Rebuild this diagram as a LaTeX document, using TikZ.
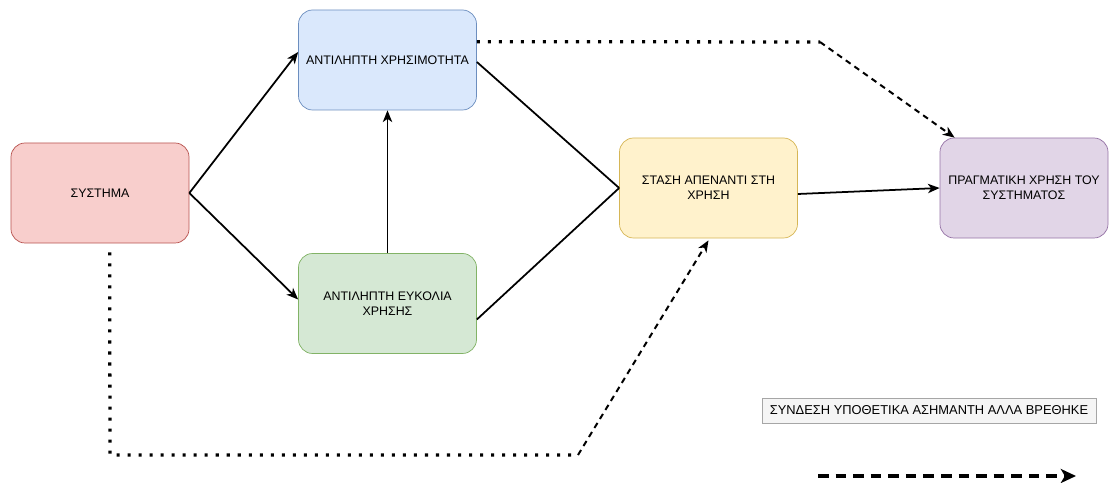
\documentclass[tikz,border=0pt]{standalone}
\usepackage{fontspec}
\setmainfont{Liberation Sans}
\usetikzlibrary{arrows.meta,calc}
\begin{document}
\begin{tikzpicture}[x=0.03cm,y=-0.03cm,
  box/.style={rectangle, rounded corners=12pt, line width=0.6pt, align=center,
    minimum width=5.34cm, minimum height=3cm, inner sep=2pt,
    font=\fontsize{10.6}{13}\selectfont},
  arr/.style={line width=1.5pt, -{Stealth[length=10pt,width=8pt,inset=2.8pt]}},
  dots/.style={line width=2.8pt, dash pattern=on 2.6pt off 6.8pt},
  dashes/.style={line width=1.7pt, dash pattern=on 5pt off 4pt,
    -{Stealth[length=10pt,width=8pt,inset=2.8pt]}}]
\useasboundingbox (0,0) rectangle (1110,483);

% process boxes
\node[box, fill={rgb,255:red,248;green,206;blue,204}, draw={rgb,255:red,184;green,84;blue,80}]
  (sys) at (100,193) {ΣΥΣΤΗΜΑ};
\node[box, fill={rgb,255:red,218;green,232;blue,252}, draw={rgb,255:red,108;green,142;blue,191}]
  (use) at (387.5,60) {ΑΝΤΙΛΗΠΤΗ ΧΡΗΣΙΜΟΤΗΤΑ};
\node[box, fill={rgb,255:red,213;green,232;blue,212}, draw={rgb,255:red,130;green,179;blue,102}]
  (ease) at (387.5,303.5) {ΑΝΤΙΛΗΠΤΗ ΕΥΚΟΛΙΑ\\ΧΡΗΣΗΣ};
\node[box, fill={rgb,255:red,255;green,242;blue,204}, draw={rgb,255:red,214;green,182;blue,86}]
  (att) at (708.5,188) {ΣΤΑΣΗ ΑΠΕΝΑΝΤΙ ΣΤΗ\\ΧΡΗΣΗ};
\node[box, minimum width=5.04cm, fill={rgb,255:red,225;green,213;blue,231}, draw={rgb,255:red,150;green,115;blue,166}]
  (act) at (1024,188) {ΠΡΑΓΜΑΤΙΚΗ ΧΡΗΣΗ ΤΟΥ\\ΣΥΣΤΗΜΑΤΟΣ};

% legend
\node[rectangle, minimum width=10.02cm, minimum height=0.75cm, inner sep=1pt,
  fill=gray!8, draw=gray!70, line width=0.6pt, font=\fontsize{11}{13}\selectfont]
  (leg) at (929,410.5) {ΣΥΝΔΕΣΗ ΥΠΟΘΕΤΙΚΑ ΑΣΗΜΑΝΤΗ ΑΛΛΑ ΒΡΕΘΗΚΕ};

% main connectors
\draw[arr] (sys.east) -- ($(use.west)+(0,-8)$);
\draw[arr] (sys.east) -- ($(ease.west)+(0,-4)$);
\draw[arr] (ease.north) -- (use.south);
\draw[line width=1.5pt] ($(use.east)+(0,2)$) -- (att.west);
\draw[line width=1.5pt] ($(ease.east)+(0,16)$) -- (att.west);
\draw[arr] ($(att.east)+(0,6)$) -- (act.west);

% hypothetical links
\coordinate (tk) at (820,42);
\coordinate (bl) at (110,455);
\coordinate (bk) at (578,455);
\draw[dots] ($(use.north east)+(0,32)$) -- (tk);
\draw[dashes] (tk) -- ($(act.north west)+(15,0)$);
\draw[dots] ($(sys.south west)+(99,9)$) -- (bl) -- (bk);
\draw[dashes] (bk) -- ($(att.south)+(0,2)$);

% legend arrow
\coordinate (la) at (818,476);
\coordinate (lb) at (1076,476);
\draw[line width=3pt, dash pattern=on 9pt off 6pt,
  -{Stealth[length=13pt,width=12pt,inset=3.5pt]}] (la) -- (lb);
\end{tikzpicture}
\end{document}
